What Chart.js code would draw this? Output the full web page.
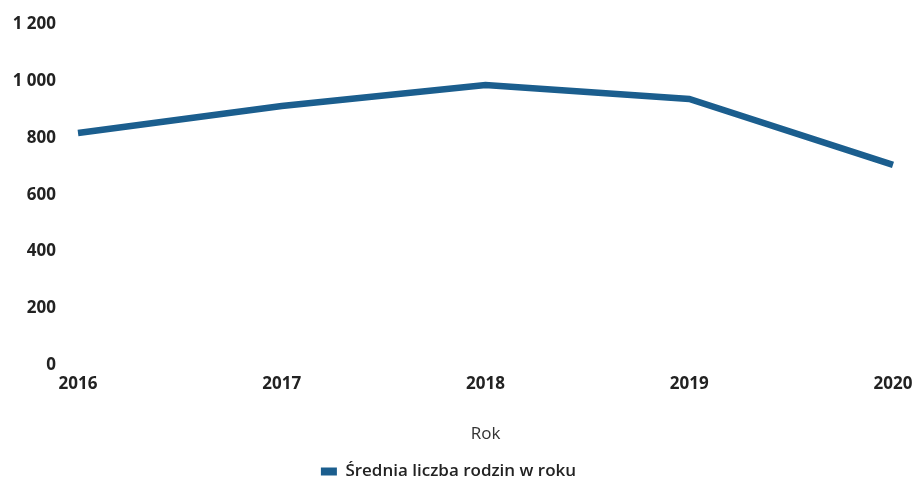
<!DOCTYPE html>
<html>
<head>
<meta charset="utf-8">
<script src="https://cdn.jsdelivr.net/npm/chart.js@4.4.0/dist/chart.umd.min.js"></script>
<style>
  html, body { margin: 0; padding: 0; background: #fff; }
  #wrap { width: 920px; height: 484px; }
</style>
</head>
<body>
<div id="wrap"><canvas id="familyChart"></canvas></div>

<script>
// data
var years = ["2016", "2017", "2018", "2019", "2020"];
var families = [817, 912, 986, 937, 705];
var seriesLabel = "Średnia liczba rodzin w roku";
var axisTitle = "Rok";

function spaced(v) {
	return String(v).replace(/\B(?=(\d{3})+(?!\d))/g, " ");
}

new Chart("familyChart", {
	type: "line",
	data: {
		labels: years,
		datasets: [{
			label: seriesLabel,
			data: families,
			borderColor: "#1b5e8e",
			backgroundColor: "#1b5e8e",
			borderWidth: 6.5,
			pointRadius: 0,
			tension: 0,
			fill: false
		}]
	},
	options: {
		responsive: true,
		maintainAspectRatio: false,
		animation: false,
		layout: { padding: { left: 4, right: 27, top: 10, bottom: -6 } },
		plugins: {
			tooltip: { enabled: false },
			legend: {
				position: "bottom",
				labels: {
					boxWidth: 16,
					boxHeight: 8,
					color: "#222",
					font: { family: "Open Sans", size: 17, weight: "600" },
					padding: 2,
					generateLabels: function(chart) {
						var items = Chart.defaults.plugins.legend.labels.generateLabels(chart);
						items.forEach(function(it) { it.lineWidth = 0; });
						return items;
					}
				}
			}
		},
		scales: {
			x: {
				offset: false,
				grid: { display: false },
				border: { display: false },
				ticks: {
					color: "#222",
					font: { family: "Open Sans", size: 17, weight: "bold" },
					padding: 1,
					maxRotation: 0
				},
				title: {
					display: true,
					text: axisTitle,
					color: "#333",
					font: { family: "Open Sans", size: 17 },
					padding: { top: 28, bottom: 17 }
				}
			},
			y: {
				min: 0,
				max: 1200,
				grid: { display: false },
				border: { display: false },
				afterFit: function(scale) { scale.width = 74; },
				ticks: {
					stepSize: 200,
					color: "#222",
					padding: 14,
					font: { family: "Open Sans", size: 17, weight: "bold" },
					callback: function(v) { return spaced(v); }
				}
			}
		}
	}
});
</script>
</body>
</html>
